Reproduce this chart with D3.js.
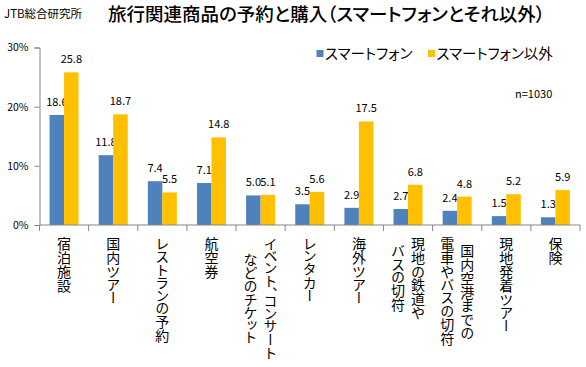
<!DOCTYPE html>
<html><head><meta charset="utf-8">
<script src="https://cdn.jsdelivr.net/npm/d3@7"></script>
<style>
html,body{margin:0;padding:0;background:#fff;}
svg{display:block;font-family:"Noto Sans CJK JP","Noto Sans",sans-serif;}
.palt{font-feature-settings:"palt" 1;}
.vlab{writing-mode:vertical-rl;font-feature-settings:"vpal" 1;}
</style></head>
<body>
<svg id="chart" width="586" height="367"></svg>
<script>
const categories = [
  ["宿泊施設"],
  ["国内ツアー"],
  ["レストランの予約"],
  ["航空券"],
  ["イベント、コンサート","などのチケット"],
  ["レンタカー"],
  ["海外ツアー"],
  ["現地の鉄道や","バスの切符"],
  ["国内空港までの","電車やバスの切符"],
  ["現地発着ツアー"],
  ["保険"]
];
const seriesNames = ["スマートフォン","スマートフォン以外"];
const smartphone = [18.6, 11.8, 7.4, 7.1, 5.0, 3.5, 2.9, 2.7, 2.4, 1.5, 1.3];
const other      = [25.8, 18.7, 5.5, 14.8, 5.1, 5.6, 17.5, 6.8, 4.8, 5.2, 5.9];
const yTicks = [0, 10, 20, 30];
const titleText = "旅行関連商品の予約と購入（スマートフォンとそれ以外）";
const sourceText = "JTB総合研究所";
const noteText = "n=1030";

const colors = ["#4F81BD", "#FFC000"];
const svg = d3.select("#chart");
const m = {left: 39.5, right: 580, top: 47.5, bottom: 225};

const x = d3.scaleBand().domain(d3.range(categories.length)).range([m.left, m.right]).paddingInner(0).paddingOuter(0);
const x1 = d3.scaleBand().domain([0,1]).range([0, 29]);
const x1off = (x.bandwidth() - 29) / 2;
const y = d3.scaleLinear().domain([0, 30]).range([m.bottom, m.top]);

// title & source
svg.append("text").attr("x", 4).attr("y", 18).attr("font-size", 11.5).attr("fill", "#000").attr("class", "palt").text(sourceText);
svg.append("text").attr("x", 108).attr("y", 21).attr("font-size", 18.5).attr("font-weight", 500).attr("fill", "#000").attr("class", "palt").text(titleText);

// y axis
const yAxis = d3.axisLeft(y).tickValues(yTicks).tickFormat(d => d + "%").tickSize(5).tickPadding(6);
const ga = svg.append("g").attr("transform", `translate(${m.left},0)`).call(yAxis);
ga.select(".domain").attr("stroke", "#868686");
ga.selectAll(".tick line").attr("stroke", "#868686");
ga.selectAll(".tick text").attr("font-size", 10.5).attr("fill", "#000").attr("font-family", "Noto Sans CJK JP");

// bars
const seriesData = [smartphone, other];
seriesData.forEach((vals, s) => {
  svg.append("g").selectAll("rect").data(vals).join("rect")
    .attr("x", (d, i) => x(i) + x1off + x1(s))
    .attr("width", x1.bandwidth())
    .attr("y", d => y(d))
    .attr("height", d => y(0) - y(d))
    .attr("fill", colors[s]);
  svg.append("g").selectAll("text").data(vals).join("text")
    .attr("x", (d, i) => x(i) + x1off + x1(s) + x1.bandwidth() / 2)
    .attr("y", d => y(d) - 9)
    .attr("text-anchor", "middle")
    .attr("font-size", 11)
    .attr("fill", "#000")
    .text(d => d.toFixed(1));
});

// x axis
svg.append("line").attr("x1", m.left).attr("x2", m.right).attr("y1", y(0)).attr("y2", y(0)).attr("stroke", "#868686");
const bounds = d3.range(categories.length + 1).map(i => i < categories.length ? x(i) : m.right);
svg.append("g").selectAll("line").data(bounds).join("line")
  .attr("x1", d => d).attr("x2", d => d).attr("y1", y(0)).attr("y2", y(0) + 6).attr("stroke", "#868686");

// category labels (vertical)
const labelTop = 237;
categories.forEach((lines, i) => {
  const cx = x(i) + x.bandwidth() / 2;
  const n = lines.length;
  const g = svg.append("g");
  const texts = lines.map((ln, j) => g.append("text")
    .attr("class", "vlab")
    .attr("x", cx + ((n - 1) / 2 - j) * 20)
    .attr("y", 0)
    .attr("font-size", 14)
    .attr("fill", "#000")
    .attr("text-anchor", "middle")
    .text(ln));
  const maxLen = d3.max(texts, t => t.node().getComputedTextLength());
  texts.forEach(t => t.attr("y", labelTop + maxLen / 2));
});

// legend
const legX = [316.5, 428];
seriesNames.forEach((nm, s) => {
  svg.append("rect").attr("x", legX[s]).attr("y", 50).attr("width", 7).attr("height", 7).attr("fill", colors[s]);
  svg.append("text").attr("x", legX[s] + 8.5).attr("y", 58.5).attr("font-size", 14.5).attr("fill", "#000").attr("class", "palt").text(nm);
});
svg.append("text").attr("x", 515).attr("y", 98).attr("font-size", 11).attr("fill", "#000").text(noteText);
</script>
</body></html>
